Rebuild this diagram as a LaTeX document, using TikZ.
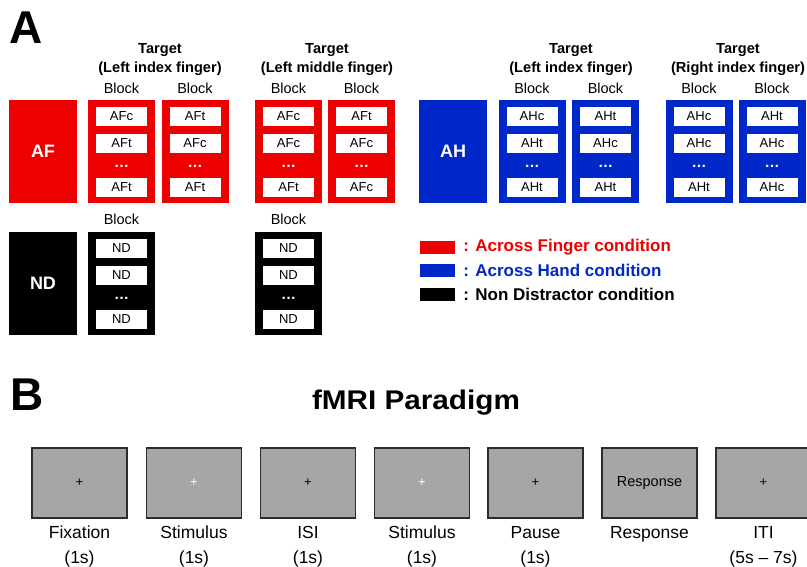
\documentclass[tikz,border=0pt]{standalone}
\usepackage{fontspec}
\setmainfont{Liberation Sans}
\usetikzlibrary{calc}
\definecolor{afred}{RGB}{236,0,0}
\definecolor{ahblue}{RGB}{0,40,200}
\definecolor{scr}{RGB}{166,166,166}
\definecolor{scrline}{RGB}{45,45,45}
\newcommand\fPanel{\fontsize{46}{50}\selectfont\bfseries}
\newcommand\fHead{\fontsize{14.6}{17}\selectfont\bfseries}
\newcommand\fBlk{\fontsize{14.5}{17}\selectfont}
\newcommand\fCond{\fontsize{18}{20}\selectfont\bfseries}
\newcommand\fTrial{\fontsize{13}{15}\selectfont}
\newcommand\fDots{\fontsize{15}{17}\selectfont\bfseries}
\newcommand\fLeg{\fontsize{17}{20}\selectfont\bfseries}
\newcommand\fTitle{\fontsize{27}{30}\selectfont\bfseries}
\newcommand\fLbl{\fontsize{17.5}{24.5}\selectfont}
\newcommand\fPlus{\fontsize{13}{14}\selectfont}
\newcommand\fResp{\fontsize{14.5}{17}\selectfont}
\tikzset{
  cond/.style={minimum width=68pt, minimum height=103pt, inner sep=0pt, text=white, font=\fCond},
  blk/.style={minimum width=67pt, minimum height=103pt, inner sep=0pt},
  trial/.style={fill=white, minimum width=51pt, minimum height=19.5pt, inner sep=0pt, font=\fTrial},
  dotsn/.style={text=white, font=\fDots, inner sep=0pt},
  head/.style={font=\fHead, inner sep=0pt},
  blab/.style={font=\fBlk, inner sep=0pt},
  swatch/.style={minimum width=35pt, minimum height=13pt, inner sep=0pt},
  leg/.style={font=\fLeg, anchor=west, inner sep=0pt},
  screen/.style={fill=scr, draw=scrline, line width=1.3pt, minimum width=95pt, minimum height=70pt, inner sep=0pt},
  plus/.style={font=\fPlus, inner sep=0pt},
  lbl/.style={font=\fLbl, align=center, inner sep=0pt},
}
\newcommand\mkblock[7]{%
  \node[blk, fill=#4] (#1) at (#2,#3) {};
  \node[trial] (#1a) at (#2,{#3-35}) {#5};
  \node[trial] (#1b) at (#2,{#3-8}) {#6};
  \node[dotsn] (#1d) at (#2,{#3+14.5}) {…};
  \node[trial] (#1c) at (#2,{#3+36}) {#7};
}
\begin{document}
\begin{tikzpicture}[x=1pt,y=-1pt]
\clip (0,0) rectangle (807,566);
\fill[white] (0,0) rectangle (807,566);
% Panel A
\node[font=\fPanel, inner sep=0pt] (pA) at (26,28) {A};
% AF row
\node[cond, fill=afred] (AF) at (43,151.5) {AF};
\mkblock{b1}{121.5}{151.5}{afred}{AFc}{AFt}{AFt}
\mkblock{b2}{195}{151.5}{afred}{AFt}{AFc}{AFt}
\mkblock{b3}{288.5}{151.5}{afred}{AFc}{AFc}{AFt}
\mkblock{b4}{361.5}{151.5}{afred}{AFt}{AFc}{AFc}
% AH row
\node[cond, fill=ahblue] (AH) at (453,151.5) {AH};
\mkblock{h1}{532}{151.5}{ahblue}{AHc}{AHt}{AHt}
\mkblock{h2}{605.5}{151.5}{ahblue}{AHt}{AHc}{AHt}
\mkblock{h3}{699}{151.5}{ahblue}{AHc}{AHc}{AHt}
\mkblock{h4}{772}{151.5}{ahblue}{AHt}{AHc}{AHc}
% ND row
\node[cond, fill=black] (ND) at (43,283.5) {ND};
\mkblock{n1}{121.5}{283.5}{black}{ND}{ND}{ND}
\mkblock{n2}{288.5}{283.5}{black}{ND}{ND}{ND}
% headers
\node[head] (t1) at (160,50) {Target};
\node[head] (p1) at (160,68.5) {(Left index finger)};
\node[head] (t2) at (327,50) {Target};
\node[head] (p2) at (327,68.5) {(Left middle finger)};
\node[head] (t3) at (571,50) {Target};
\node[head] (p3) at (571,68.5) {(Left index finger)};
\node[head] (t4) at (738,50) {Target};
\node[head] (p4) at (738,68.5) {(Right index finger)};
\foreach \n/\x in {b1/121.5,b2/195,b3/288.5,b4/361.5,h1/532,h2/605.5,h3/699,h4/772}
  \node[blab] (l\n) at (\x,88) {Block};
\node[blab] (ln1) at (121.5,219) {Block};
\node[blab] (ln2) at (288.5,219) {Block};
% legend
\node[swatch, fill=afred] (sw1) at (437.5,247.5) {};
\node[swatch, fill=ahblue] (sw2) at (437.5,270.5) {};
\node[swatch, fill=black] (sw3) at (437.5,294) {};
\node[leg, text=afred] (lg1) at ($(sw1.east)+(8,0)$) {: Across Finger condition};
\node[leg, text=ahblue] (lg2) at ($(sw2.east)+(8,0)$) {: Across Hand condition};
\node[leg, text=black] (lg3) at ($(sw3.east)+(8,0)$) {: Non Distractor condition};
% Panel B
\node[font=\fPanel, inner sep=0pt] (pB) at (27.5,395) {B};
\node[font=\fTitle, inner sep=0pt] (title) at (416,403) {\scalebox{1.1}[1]{fMRI Paradigm}};
\node[screen] (s1) at (79.5,483) {};
\node[screen] (s2) at (194,483) {};
\node[screen] (s3) at (308,483) {};
\node[screen] (s4) at (422,483) {};
\node[screen] (s5) at (535.5,483) {};
\node[screen] (s6) at (649.5,483) {};
\node[screen] (s7) at (763.5,483) {};
\node[plus] at (s1) {+};
\node[plus, text=white] at (s2) {+};
\node[plus] at (s3) {+};
\node[plus, text=white] at (s4) {+};
\node[plus] at (s5) {+};
\node[font=\fResp, inner sep=0pt] at (s6) {Response};
\node[plus] at (s7) {+};
\node[lbl] (L1) at (79.5,546) {\strut Fixation\\(1s)\strut};
\node[lbl] (L2) at (194,546) {\strut Stimulus\\(1s)\strut};
\node[lbl] (L3) at (308,546) {\strut ISI\\(1s)\strut};
\node[lbl] (L4) at (422,546) {\strut Stimulus\\(1s)\strut};
\node[lbl] (L5) at (535.5,546) {\strut Pause\\(1s)\strut};
\node[lbl] (L6) at (649.5,533.7) {\strut Response};
\node[lbl] (L7) at (763.5,546) {\strut ITI\\(5s – 7s)\strut};
\end{tikzpicture}
\end{document}
